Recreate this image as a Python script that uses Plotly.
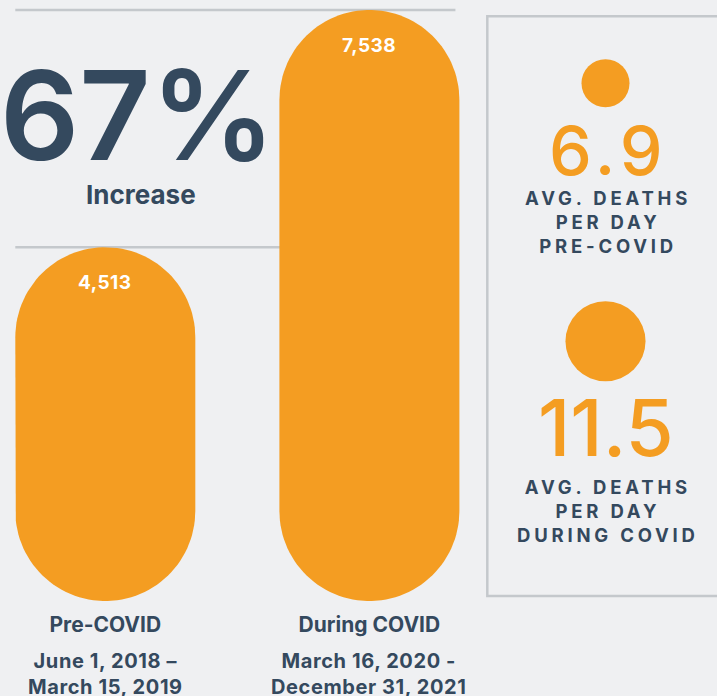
import numpy as np
import plotly.graph_objects as go

# ---------------- data ----------------
periods = ["Pre-COVID", "During COVID"]
date_ranges = [["June 1, 2018 –", "March 15, 2019"], ["March 16, 2020 -", "December 31, 2021"]]
deaths = [4513, 7538]
avg_per_day = [6.9, 11.5]
avg_labels = [["AVG. DEATHS", "PER DAY", "PRE-COVID"],
              ["AVG. DEATHS", "PER DAY", "DURING COVID"]]

# ---------------- style ----------------
BG = "#eff0f2"
ORANGE = "#f49d22"
NAVY = "#34495e"
RULE = "#c4c8cc"
FONT = "Inter"
W, H = 717, 696

pct = round((deaths[1] / deaths[0] - 1) * 100)

# axis geometry (pixels -> data units)
PX_PER_X = 264.1
Y_TOP_PX = 601.0
ymax = deaths[1] * Y_TOP_PX / 591
Y_PER_PX = ymax / Y_TOP_PX
BW = 180 / PX_PER_X          # bar width in x units
R_PX = 90                    # pill end radius in px

fig = go.Figure()

# pill-shaped bars drawn as filled outlines in data coordinates
t_top = np.linspace(0, np.pi, 60)
t_bot = np.linspace(np.pi, 2 * np.pi, 60)
for i, (p, v) in enumerate(zip(periods, deaths)):
    hw = BW / 2
    ry = R_PX * Y_PER_PX
    xs = np.concatenate([i + hw * np.cos(t_top), i + hw * np.cos(t_bot)])
    ys = np.concatenate([(v - ry) + ry * np.sin(t_top), ry + ry * np.sin(t_bot)])
    fig.add_trace(go.Scatter(x=np.append(xs, xs[0]), y=np.append(ys, ys[0]),
                             mode="lines", fill="toself", fillcolor=ORANGE,
                             line=dict(width=0, color=ORANGE), name=p,
                             hoverinfo="skip", showlegend=False))

# reference rules at each bar value
for v in deaths:
    fig.add_shape(type="line", xref="x", yref="y", x0=-BW / 2, x1=1 + BW / 2 - 0.015,
                  y0=v, y1=v, line=dict(color=RULE, width=2.5), layer="below")

# value labels inside pills
for i, v in enumerate(deaths):
    fig.add_annotation(x=i, y=v, xref="x", yref="y",
                       text=f"<span style='letter-spacing:0.5px'>{v:,}</span>", showarrow=False,
                       yanchor="middle", yshift=-35,
                       font=dict(family=FONT, size=19, color="white", weight=700))

# date ranges under category labels
for i, d in enumerate(date_ranges):
    txt = "<br>".join(f"<span style='letter-spacing:0.6px'>{t}</span>" for t in d)
    fig.add_annotation(x=i, y=0, xref="x", yref="y", text=txt, showarrow=False,
                       yanchor="top", yshift=-46,
                       font=dict(family=FONT, size=20, color=NAVY, weight=700))

# big percentage
fig.add_annotation(x=137 / W, y=1 - 115 / H, xref="paper", yref="paper", text=f"{pct}%",
                   showarrow=False, yanchor="middle", xanchor="center",
                   font=dict(family=FONT, size=124, color=NAVY, weight=600))
fig.add_annotation(x=141 / W, y=1 - 194 / H, xref="paper", yref="paper", text="Increase",
                   showarrow=False, yanchor="middle", xanchor="center",
                   font=dict(family=FONT, size=26, color=NAVY, weight=700))

# right panel box
fig.add_shape(type="rect", xref="paper", yref="paper", x0=487.3 / W, x1=1.05,
              y0=1 - 596 / H, y1=1 - 16.3 / H, line=dict(color=RULE, width=2.5),
              fillcolor="rgba(0,0,0,0)", layer="below")

# circles sized by avg deaths per day
K = 6.96  # px diameter per death/day
fig.add_trace(go.Scatter(x=[0, 0], y=periods, xaxis="x2", yaxis="y2", mode="markers",
                         marker=dict(size=avg_per_day, sizemode="diameter", sizeref=1 / K,
                                     color=ORANGE, opacity=1, line_width=0),
                         hoverinfo="skip", showlegend=False))

num_sizes = [68, 78]
num_spacing = [5, 0]
for i, (p, v) in enumerate(zip(periods, avg_per_day)):
    r = v * K / 2
    cap = num_sizes[i] * 0.727
    fig.add_annotation(x=0, y=p, xref="x2", yref="y2",
                       text=f"<span style='letter-spacing:{num_spacing[i]}px'>{v}</span>",
                       showarrow=False, xshift=num_spacing[i] / 2,
                       yanchor="middle", yshift=-(r + 18 + cap / 2),
                       font=dict(family=FONT, size=num_sizes[i], color=ORANGE, weight=500))
    lbl = "<br>".join(f"<span style='letter-spacing:3.8px'>{t}</span>" for t in avg_labels[i])
    fig.add_annotation(x=0, y=p, xref="x2", yref="y2", text=lbl, showarrow=False,
                       yanchor="top", yshift=-(r + 18 + cap + 10 + 8 * i), xshift=2,
                       font=dict(family=FONT, size=18.5, color=NAVY, weight=700))

fig.update_layout(
    width=W, height=H, margin=dict(l=0, r=0, t=0, b=0),
    paper_bgcolor=BG, plot_bgcolor=BG, showlegend=False,
    xaxis=dict(domain=[0, 480 / W], range=[-105.3 / PX_PER_X, (480 - 105.3) / PX_PER_X],
               tickvals=list(range(len(periods))), ticktext=periods,
               showgrid=False, zeroline=False, showline=False, ticks="",
               ticklabelstandoff=9, fixedrange=True,
               tickfont=dict(family=FONT, size=21, color=NAVY, weight=700)),
    yaxis=dict(domain=[(H - Y_TOP_PX) / H, 1], range=[0, ymax], visible=False, fixedrange=True),
    xaxis2=dict(domain=[487 / W, 1], range=[-118.5, 111.5], visible=False, anchor="y2"),
    yaxis2=dict(domain=[0, 1], type="category", categoryarray=periods,
                range=[(H - 83.3) / 258, -83.3 / 258], visible=False, anchor="x2"),
)

fig.write_html("out.html", config={"displayModeBar": False},
               post_script="document.body.style.margin='0';")
